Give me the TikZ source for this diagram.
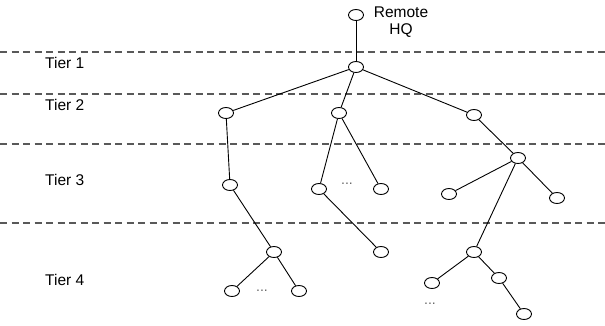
\documentclass[tikz,border=0pt]{standalone}
\usepackage{fontspec}
\setmainfont{Liberation Sans}
\usetikzlibrary{shapes.geometric}
\begin{document}
\begin{tikzpicture}[x=1pt,y=-1pt,
  nd/.style={draw=black,ellipse,line width=0.9pt,minimum width=15pt,minimum height=11pt,inner sep=0pt,fill=white},
  tierline/.style={draw=black!65,line width=1.3pt,dash pattern=on 7pt off 4.5pt},
  edge/.style={draw=black,line width=0.9pt},
  lbl/.style={font=\fontsize{15.5}{17}\selectfont,inner sep=0pt},
  dots/.style={font=\fontsize{14}{14}\selectfont,text=black!60,inner sep=0pt}]
\useasboundingbox (0,0) rectangle (605,325);
% tier separators
\coordinate (l1a) at (0,52);  \coordinate (l1b) at (605,52);
\coordinate (l2a) at (0,94);  \coordinate (l2b) at (605,94);
\coordinate (l3a) at (0,144); \coordinate (l3b) at (605,144);
\coordinate (l4a) at (0,223); \coordinate (l4b) at (605,223);
\draw[tierline] (l1a) -- (l1b);
\draw[tierline] (l2a) -- (l2b);
\draw[tierline] (l3a) -- (l3b);
\draw[tierline] (l4a) -- (l4b);
% tier labels
\node[lbl,anchor=west] (tier1) at (45,63) {Tier 1};
\node[lbl,anchor=west] (tier2) at (45,105) {Tier 2};
\node[lbl,anchor=west] (tier3) at (45,180) {Tier 3};
\node[lbl,anchor=west] (tier4) at (45,280) {Tier 4};
% nodes
\node[nd] (r) at (356,15) {};
\node[lbl,align=center] (hq) at (401,22) {Remote\\HQ};
\node[nd] (t1) at (356,67) {};
\node[nd] (a) at (226,113) {};
\node[nd] (b) at (339,113) {};
\node[nd] (c) at (474,115) {};
\node[nd] (a3) at (230,185) {};
\node[nd] (b3l) at (319,189) {};
\node[nd] (b3r) at (381,189) {};
\node[nd] (c3) at (518,158) {};
\node[nd] (c3l) at (449,194) {};
\node[nd] (c3r) at (557,198) {};
\node[nd] (a4) at (274,252) {};
\node[nd] (a4l) at (232,291) {};
\node[nd] (a4r) at (299,291) {};
\node[nd] (b4) at (381,252) {};
\node[nd] (c4) at (474,252) {};
\node[nd] (c4l) at (432,283) {};
\node[nd] (c4r) at (499,278) {};
\node[nd] (c4rr) at (524,314) {};
% dots
\node[dots] (d1) at (347,184) {...};
\node[dots] (d2) at (262,291) {...};
\node[dots] (d3) at (430,304) {...};
% edges
\draw[edge] (r) -- (t1);
\draw[edge] (t1) -- (a);
\draw[edge] (t1) -- (b);
\draw[edge] (t1) -- (c);
\draw[edge] (a) -- (a3);
\draw[edge] (a3) -- (a4);
\draw[edge] (a4) -- (a4l);
\draw[edge] (a4) -- (a4r);
\draw[edge] (b) -- (b3l);
\draw[edge] (b) -- (b3r);
\draw[edge] (b3l) -- (b4);
\draw[edge] (c) -- (c3);
\draw[edge] (c3) -- (c3l);
\draw[edge] (c3) -- (c3r);
\draw[edge] (c3) -- (c4);
\draw[edge] (c4) -- (c4l);
\draw[edge] (c4) -- (c4r);
\draw[edge] (c4r) -- (c4rr);
\end{tikzpicture}
\end{document}
